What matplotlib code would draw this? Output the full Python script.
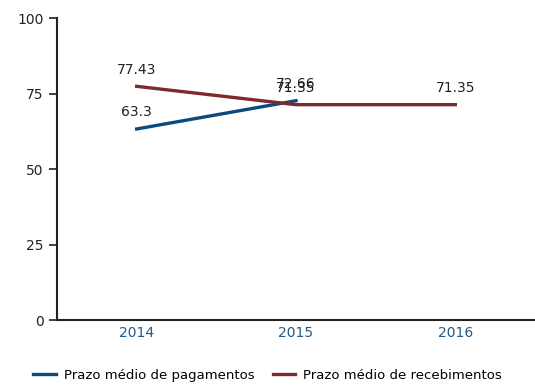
import numpy as np
import matplotlib.pyplot as plt

anos = ['2014', '2015', '2016']
pagamentos = [63.3, 72.66, np.nan]
recebimentos = [77.43, 71.35, 71.35]

AZUL = '#0b4a7f'
VERMELHO = '#7d2a2e'

fig = plt.figure(figsize=(5.35, 3.87), dpi=100)
ax = fig.add_axes([0.1065, 0.173, 0.8935, 0.78])

x = np.arange(len(anos)) + 0.5
ax.plot(x, pagamentos, color=AZUL, linewidth=2.4, label='Prazo médio de pagamentos')
ax.plot(x, recebimentos, color=VERMELHO, linewidth=2.4, label='Prazo médio de recebimentos')

# rótulos de valor acima de cada ponto
for serie in (pagamentos, recebimentos):
    for xi, v in zip(x, serie):
        if np.isnan(v):
            continue
        ax.annotate(f'{v:g}', (xi, v), xytext=(0, 7), textcoords='offset points',
                    ha='center', va='bottom', fontsize=10, color='#222222')

ax.set_xlim(0, 3)
ax.set_ylim(0, 100)
ax.set_xticks(x)
ax.set_xticklabels(anos, color='#1f5a8a', fontsize=10)
ax.set_yticks([0, 25, 50, 75, 100])
ax.tick_params(axis='y', labelsize=10, length=6, width=1.2, colors='#222222')
ax.tick_params(axis='x', length=0, pad=4)
for lado in ('top', 'right'):
    ax.spines[lado].set_visible(False)
ax.spines['left'].set_linewidth(1.5)
ax.spines['bottom'].set_linewidth(1.5)
ax.spines['left'].set_color('#222222')
ax.spines['bottom'].set_color('#222222')

fig.legend(loc='lower center', bbox_to_anchor=(0.5, -0.018), ncol=2, frameon=False,
           fontsize=9.5, handlelength=1.7, handletextpad=0.6, columnspacing=1.4)

fig.savefig('out.png', dpi=100)
